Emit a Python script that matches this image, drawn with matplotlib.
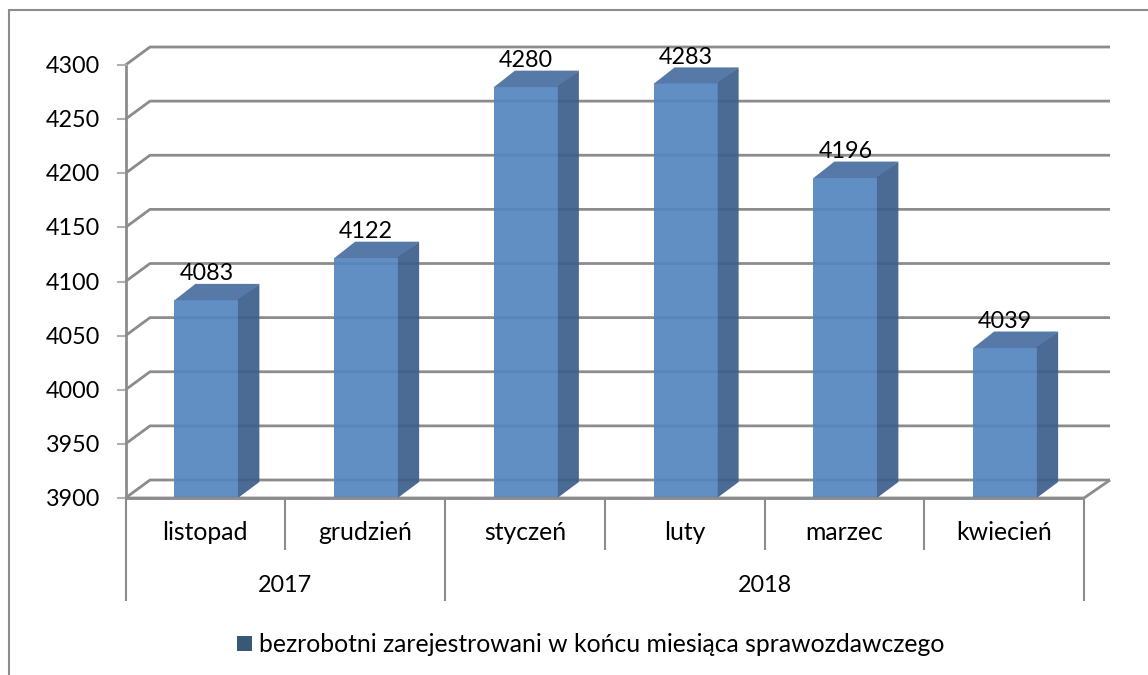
import matplotlib
matplotlib.use("Agg")
import matplotlib.pyplot as plt
from matplotlib.patches import Polygon, Rectangle

plt.rcParams['font.family'] = ['Lato', 'DejaVu Sans']

months = ['listopad', 'grudzień', 'styczeń', 'luty', 'marzec', 'kwiecień']
values = [4083, 4122, 4280, 4283, 4196, 4039]
years = ['2017', '2018']
year_spans = [(0, 2), (2, 6)]
yticks = [3900, 3950, 4000, 4050, 4100, 4150, 4200, 4250, 4300]
legend_label = 'bezrobotni zarejestrowani w końcu miesiąca sprawozdawczego'

W, H = 1148, 675
fig = plt.figure(figsize=(W / 100, H / 100), dpi=100)
L, R, T, B = 125.5, 1084, 65, 498
ax = fig.add_axes([L / W, 1 - B / H, (R - L) / W, (B - T) / H])
ax.set_xlim(0, 6)
ax.set_ylim(3900, 4300)
ax.axis('off')

GREY = '#8c8c8c'
FS = 17.8
FS_NUM = 16.8
px = 6 / (R - L)
py = 400 / (B - T)
depth_x, depth_y = 24.5 * px, 18 * py
wall_end = 6 + 26 * px
bar_w = 64 * px
bar_dx, bar_dy = 21 * px, 16 * py
bar_shift = 1 * px
back = dict(color=GREY, lw=2, clip_on=False, solid_capstyle='butt')

for v in yticks:
    ax.plot([0, depth_x, wall_end], [v, v + depth_y, v + depth_y], zorder=1, **back)
    ax.plot([-8 * px, 0], [v, v], color='#b0b0b0', lw=1.5, clip_on=False, zorder=1)
ax.plot([0, 6, wall_end], [3900, 3900, 3900 + depth_y], zorder=1, **back)
ax.plot([0, 0], [3900, 4300], zorder=1, **back)

alpha = 0.93
for i, v in enumerate(values):
    x0 = i + 0.5 - bar_w / 2 + bar_shift
    x1 = x0 + bar_w
    ax.add_patch(Polygon([(x0, v - 0.5 * py), (x1, v - 0.5 * py), (x1 + bar_dx, v + bar_dy), (x0 + bar_dx, v + bar_dy)],
                         closed=True, fc='#4a6fa0', ec='none', alpha=alpha, clip_on=False, zorder=3))
    ax.add_patch(Polygon([(x1 - 0.5 * px, 3900), (x1 + bar_dx, 3900 + bar_dy), (x1 + bar_dx, v + bar_dy), (x1 - 0.5 * px, v)],
                         closed=True, fc='#3d5f8c', ec='none', alpha=alpha, clip_on=False, zorder=3))
    ax.add_patch(Rectangle((x0, 3900), bar_w, v - 3900, fc='#5585bf', ec='none',
                           alpha=alpha, clip_on=False, zorder=4))
    ax.text(i + 0.5 + bar_shift, v + 26 * py, str(v), ha='center', va='center', fontsize=FS_NUM,
            color='black', zorder=6, clip_on=False)

ax.plot([0, 6], [3900, 3900], zorder=5, **back)

for v in yticks:
    ax.text(-25.5 * px, v - 1.5 * py, str(v), ha='right', va='center', fontsize=FS_NUM, color='black', clip_on=False)

level1 = 3900 - 51.5 * py
level2 = 3900 - 103 * py
axis_line = dict(color=GREY, lw=1.5, clip_on=False, solid_capstyle='butt')
for i in range(7):
    is_year = i in (0, 2, 6)
    ax.plot([i, i], [3900, level2 if is_year else level1], **axis_line)
for i, m in enumerate(months):
    ax.text(i + 0.5, 3900 - 35 * py, m, ha='center', va='center', fontsize=FS, clip_on=False)
for y, (a, b) in zip(years, year_spans):
    ax.text((a + b) / 2, 3900 - 88 * py, y, ha='center', va='center', fontsize=FS_NUM, clip_on=False)

fig.patches.append(Rectangle((237 / W, 1 - 651 / H), 15 / W, 15 / H, transform=fig.transFigure,
                             fc='#385878', ec='none'))
fig.text(259 / W, 1 - 644 / H, legend_label, ha='left', va='center', fontsize=FS)

frame = dict(color='#8c8c8c', lw=1.5, transform=fig.transFigure, solid_capstyle='butt')
fig.add_artist(plt.Line2D([8.5 / W, 8.5 / W], [0, 1 - 9.5 / H], **frame))
fig.add_artist(plt.Line2D([8 / W, 1], [1 - 9.5 / H, 1 - 9.5 / H], **frame))

fig.savefig('out.png', dpi=100)
